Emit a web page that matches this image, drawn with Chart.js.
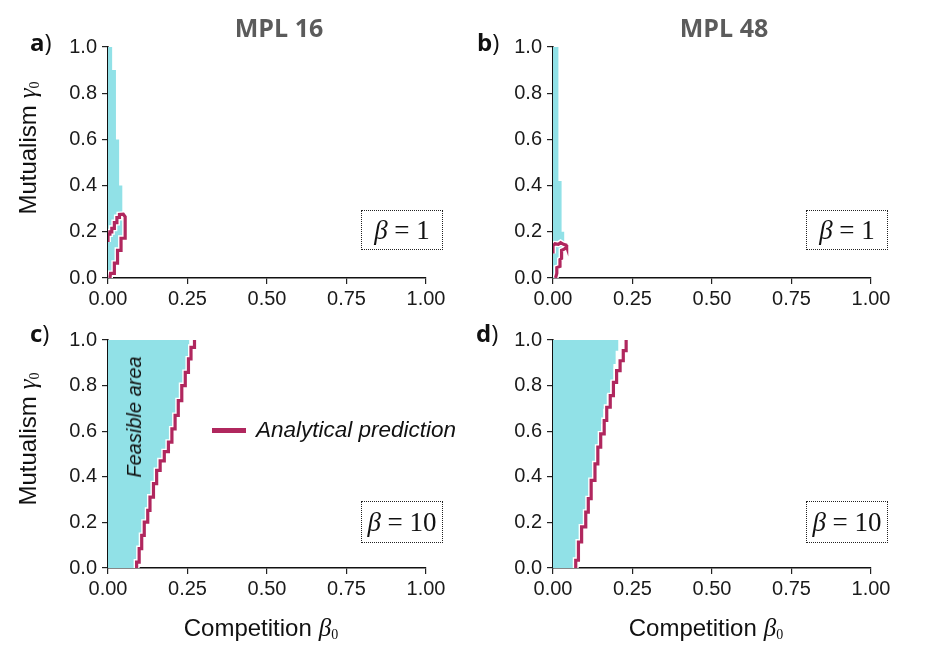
<!DOCTYPE html>
<html><head><meta charset="utf-8">
<script src="https://cdn.jsdelivr.net/npm/chart.js@4.4.1/dist/chart.umd.min.js"></script>
<style>
html,body{margin:0;padding:0;background:#fff;}
body{width:925px;height:655px;overflow:hidden;position:relative;font-family:'Liberation Sans',Arial,sans-serif;}
canvas{position:absolute;}
.ttl{position:absolute;font-family:'Open Sans',sans-serif;font-weight:700;font-size:25px;color:#5b5b5b;transform:translate(-50%,-50%);white-space:nowrap;line-height:1;}
.lab{position:absolute;font-family:'Open Sans',sans-serif;font-size:24px;color:#111;line-height:1;white-space:nowrap;}
.lab b{font-weight:700;}
.box{position:absolute;border:1.5px dotted #222;box-sizing:border-box;display:flex;align-items:center;justify-content:center;font-family:'Liberation Serif',serif;font-size:27px;color:#111;white-space:pre;}
.leg{position:absolute;font-style:italic;font-size:22.5px;color:#111;line-height:1;white-space:nowrap;transform:translateY(-50%);}
.legline{position:absolute;height:5px;background:#b0275e;}
.feas{position:absolute;font-style:italic;font-size:20px;color:#111;white-space:nowrap;line-height:1;transform:translate(-50%,-50%) rotate(-90deg);}
.axt{position:absolute;font-size:24px;color:#111;white-space:nowrap;line-height:1;transform:translate(-50%,-50%);}
.axt.y{transform:translate(-50%,-50%) rotate(-90deg);}
.axt i{font-family:'Liberation Serif',serif;font-size:25px;margin-left:7px;}
.axt sub{font-family:'Liberation Serif',serif;font-size:14px;vertical-align:-3px;}
</style></head><body>
<canvas id="pa" width="456" height="323" style="left:0;top:0"></canvas>
<canvas id="pb" width="456" height="323" style="left:445px;top:0"></canvas>
<canvas id="pc" width="456" height="335" style="left:0;top:320px"></canvas>
<canvas id="pd" width="456" height="335" style="left:445px;top:320px"></canvas>

<div class="ttl" style="left:279px;top:27px">MPL 16</div>
<div class="ttl" style="left:724px;top:27px">MPL 48</div>
<div class="lab" style="left:30px;top:30px"><b>a</b>)</div>
<div class="lab" style="left:477px;top:30px"><b>b</b>)</div>
<div class="lab" style="left:30px;top:321px"><b>c</b>)</div>
<div class="lab" style="left:476px;top:321px"><b>d</b>)</div>
<div class="box" style="left:361px;top:210px;width:82px;height:40px"><i>β</i> = 1</div>
<div class="box" style="left:806px;top:210px;width:82px;height:40px"><i>β</i> = 1</div>
<div class="box" style="left:361px;top:501px;width:82px;height:42px"><i>β</i> = 10</div>
<div class="box" style="left:806px;top:501px;width:82px;height:42px"><i>β</i> = 10</div>
<div class="legline" style="left:212px;top:427.5px;width:34px"></div>
<div class="leg" style="left:256px;top:430px">Analytical prediction</div>
<div class="feas" style="left:134px;top:417px">Feasible area</div>
<div class="axt y" style="left:28px;top:148px">Mutualism<i>γ</i><sub>0</sub></div>
<div class="axt y" style="left:28px;top:439px">Mutualism<i>γ</i><sub>0</sub></div>
<div class="axt" style="left:261px;top:628px">Competition<i>β</i><sub>0</sub></div>
<div class="axt" style="left:706px;top:628px">Competition<i>β</i><sub>0</sub></div>

<script>
// ---- tick values / labels ----
const xTickValues = [0, 0.25, 0.5, 0.75, 1];
const xTickLabels = ['0.00', '0.25', '0.50', '0.75', '1.00'];
const yTickValues = [0, 0.2, 0.4, 0.6, 0.8, 1];
const yTickLabels = ['0.0', '0.2', '0.4', '0.6', '0.8', '1.0'];

// ---- panel a: MPL 16, beta = 1 ---- [competition β0, mutualism γ0]
const feasibleTopA = [[0, 1.0], [0.013, 0.9], [0.025, 0.6], [0.035, 0.4], [0.045, 0.275], [0.054, 0.275]];
const feasibleBottomA = [[0, 0], [0.007, 0.02], [0.02, 0.064], [0.03, 0.12], [0.041, 0.172], [0.054, 0.172]];
const predictionA = [[0, 0.156], [0, 0.19], [0.006, 0.19], [0.006, 0.20], [0.012, 0.20], [0.012, 0.215], [0.02, 0.215], [0.02, 0.24], [0.028, 0.24], [0.028, 0.262], [0.036, 0.262], [0.036, 0.275], [0.048, 0.276], [0.054, 0.265], [0.054, 0.172], [0.041, 0.172], [0.041, 0.12], [0.03, 0.12], [0.03, 0.064], [0.02, 0.064], [0.02, 0.02], [0.008, 0.02], [0.006, 0]];

// ---- panel b: MPL 48, beta = 1 ----
const feasibleTopB = [[0, 1.0], [0.017, 0.42], [0.027, 0.2], [0.036, 0.2]];
const feasibleBottomB = [[0, 0], [0.008, 0.01], [0.012, 0.045], [0.022, 0.08], [0.027, 0.12], [0.036, 0.12]];
const predictionB = [[0, 0.106], [0, 0.14], [0.006, 0.148], [0.017, 0.146], [0.024, 0.153], [0.033, 0.146], [0.041, 0.143], [0.043, 0.135], [0.035, 0.125], [0.027, 0.12], [0.027, 0.085], [0.022, 0.08], [0.022, 0.05], [0.012, 0.045], [0.012, 0.02], [0.008, 0.0]];

// ---- panel c: MPL 16, beta = 10 ----
const feasibleEdgeC = [[0, 0], [0.085, 0], [0.093, 0.026], [0.101, 0.085], [0.109, 0.143], [0.120, 0.201], [0.127, 0.253], [0.138, 0.311], [0.148, 0.37], [0.159, 0.428], [0.172, 0.47], [0.185, 0.51], [0.196, 0.552], [0.206, 0.61], [0.216, 0.669], [0.227, 0.734], [0.238, 0.80], [0.247, 0.858], [0.252, 0.917], [0.256, 0.968], [0.256, 1.0]];
const predictionC = [[0.090, 0], [0.098, 0.026], [0.106, 0.085], [0.114, 0.143], [0.125, 0.201], [0.132, 0.253], [0.143, 0.311], [0.153, 0.37], [0.164, 0.428], [0.177, 0.47], [0.19, 0.51], [0.201, 0.552], [0.211, 0.61], [0.221, 0.669], [0.232, 0.734], [0.243, 0.80], [0.253, 0.858], [0.261, 0.917], [0.272, 0.968], [0.272, 1.0]];

// ---- panel d: MPL 48, beta = 10 ----
const feasibleEdgeD = [[0, 0], [0.069, 0], [0.078, 0.034], [0.088, 0.107], [0.099, 0.18], [0.109, 0.245], [0.117, 0.311], [0.127, 0.384], [0.134, 0.457], [0.143, 0.53], [0.151, 0.588], [0.158, 0.632], [0.169, 0.698], [0.18, 0.764], [0.19, 0.822], [0.197, 0.895], [0.206, 0.953], [0.206, 1.0]];
const predictionD = [[0.0715, 0], [0.080, 0.034], [0.090, 0.114], [0.103, 0.18], [0.111, 0.245], [0.120, 0.304], [0.132, 0.384], [0.141, 0.457], [0.150, 0.53], [0.161, 0.588], [0.169, 0.647], [0.180, 0.705], [0.190, 0.756], [0.200, 0.814], [0.211, 0.866], [0.221, 0.909], [0.230, 0.953], [0.230, 1.0]];

const CYAN = '#91e1e7';
const RED = '#b0275e';
const pts = a => a.map(([x, y]) => ({x, y}));

function predictionSets(pred, stepped) {
  return [
    {data: pts(pred), borderColor: '#ffffff', borderWidth: 6, stepped, fill: false, order: 1, pointRadius: 0, borderJoinStyle: 'miter'},
    {data: pts(pred), borderColor: RED, borderWidth: 3.2, stepped, fill: false, order: 0, pointRadius: 0, borderJoinStyle: 'miter'}
  ];
}
function columnSets(top, bottom, pred) {
  return [
    {data: pts(top), stepped: 'before', borderWidth: 0, backgroundColor: CYAN, fill: '+1', order: 2, pointRadius: 0},
    {data: pts(bottom), stepped: 'before', borderWidth: 0, backgroundColor: CYAN, fill: false, order: 2, pointRadius: 0},
    ...predictionSets(pred, false)
  ];
}
function edgeSets(edge, pred) {
  return [
    {data: pts(edge), stepped: 'after', borderWidth: 0, backgroundColor: CYAN, fill: 'end', order: 2, pointRadius: 0},
    ...predictionSets(pred, 'after')
  ];
}

function makePanel(id, datasets, showX, pad) {
  new Chart(document.getElementById(id), {
    type: 'line',
    data: {datasets},
    options: {
      responsive: false, maintainAspectRatio: false, animation: false, events: [],
      layout: {padding: pad},
      plugins: {legend: {display: false}, tooltip: {enabled: false}},
      scales: {
        x: {
          type: 'linear', min: 0, max: 1,
          afterFit: s => { s.height = showX ? 80 : 40; },
          afterBuildTicks: s => { s.ticks = xTickValues.map(v => ({value: v})); },
          ticks: {callback: v => xTickLabels[xTickValues.indexOf(v)], font: {family: 'Liberation Sans', size: 20}, color: '#1a1a1a', padding: 3, maxRotation: 0},
          grid: {display: true, drawOnChartArea: false, drawTicks: true, tickLength: 6, color: '#222', lineWidth: 1.2},
          border: {display: true, color: '#111', width: 1.6}
        },
        y: {
          type: 'linear', min: 0, max: 1,
          afterFit: s => { s.width = 108; },
          afterBuildTicks: s => { s.ticks = yTickValues.map(v => ({value: v})); },
          ticks: {callback: v => yTickLabels[Math.round(v * 5)], font: {family: 'Liberation Sans', size: 20}, color: '#1a1a1a', padding: 5},
          grid: {display: true, drawOnChartArea: false, drawTicks: true, tickLength: 6, color: '#222', lineWidth: 1.2},
          border: {display: true, color: '#111', width: 1.6}
        }
      }
    }
  });
}

const padTop = {top: 47, right: 30, bottom: 5, left: 0};
const padBot = {top: 20, right: 30, bottom: 7, left: 0};
makePanel('pa', columnSets(feasibleTopA, feasibleBottomA, predictionA), false, padTop);
makePanel('pb', columnSets(feasibleTopB, feasibleBottomB, predictionB), false, padTop);
makePanel('pc', edgeSets(feasibleEdgeC, predictionC), true, padBot);
makePanel('pd', edgeSets(feasibleEdgeD, predictionD), true, padBot);
</script>
</body></html>
